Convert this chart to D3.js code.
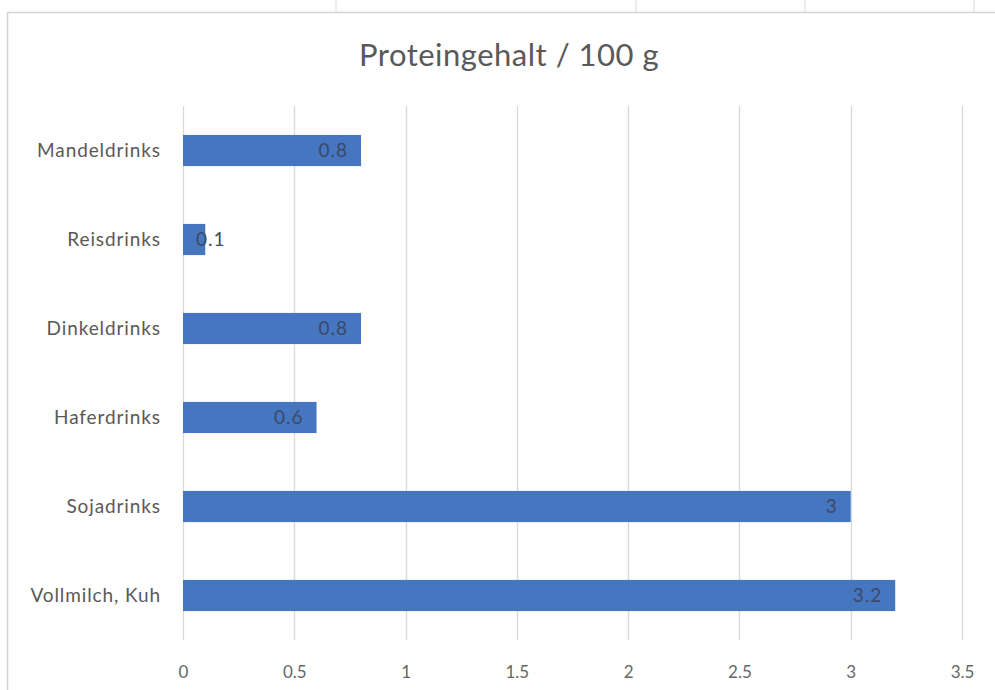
<!DOCTYPE html>
<html>
<head>
<meta charset="utf-8">
<script src="https://cdn.jsdelivr.net/npm/d3@7"></script>
<style>
  body { margin: 0; background: #fff; }
  text { font-family: Lato, "Open Sans", sans-serif; }
</style>
</head>
<body>
<svg id="canvas"></svg>
<script>
let categories = ['Mandeldrinks', 'Reisdrinks', 'Dinkeldrinks', 'Haferdrinks', 'Sojadrinks', 'Vollmilch, Kuh']
let values = [0.8, 0.1, 0.8, 0.6, 3, 3.2]
let ticks = [0, 0.5, 1, 1.5, 2, 2.5, 3, 3.5]
let title = 'Proteingehalt / 100 g'

const width = 995
const height = 690
const plotLeft = 183
const plotRight = 962
const plotTop = 106
const plotBottom = 640

let canvas = d3.select('#canvas')
canvas.attr('width', width)
canvas.attr('height', height)

// spreadsheet cells peeking out above the chart
let cellLines = [336, 636, 805, 974]
canvas.selectAll('line.cell')
    .data(cellLines)
    .enter()
    .append('line')
    .attr('x1', d => d).attr('x2', d => d)
    .attr('y1', 0).attr('y2', 12)
    .attr('stroke', '#dcdcdc')

// chart area border
canvas.append('rect')
    .attr('x', 7.5).attr('y', 12.5)
    .attr('width', width + 20).attr('height', height + 20)
    .attr('fill', '#fff')
    .attr('stroke', '#d4d4d4')
    .attr('stroke-width', 1.5)

let xScale = d3.scaleLinear().domain([0, 3.5]).range([plotLeft, plotRight])
let yScale = d3.scaleBand().domain(categories).range([plotTop, plotBottom]).paddingInner(0.65).paddingOuter(0.325)

canvas.append('text')
    .attr('x', 509).attr('y', 66)
    .attr('text-anchor', 'middle')
    .attr('font-size', 31)
    .attr('letter-spacing', 0.5)
    .attr('fill', '#595959')
    .text(title)

// gridlines
canvas.selectAll('line.grid')
    .data(ticks)
    .enter()
    .append('line')
    .attr('class', 'grid')
    .attr('x1', d => Math.round(xScale(d)) + 0.5)
    .attr('x2', d => Math.round(xScale(d)) + 0.5)
    .attr('y1', plotTop).attr('y2', plotBottom)
    .attr('stroke', '#d9d9d9')
    .attr('stroke-width', 1.3)

let xAxis = d3.axisBottom(xScale).tickValues(ticks).tickSize(0).tickPadding(0).tickFormat(d => String(d))
let gx = canvas.append('g').attr('transform', 'translate(0,' + 678 + ')').call(xAxis)
gx.select('.domain').remove()
gx.selectAll('text').attr('font-size', 17).attr('fill', '#666').attr('font-family', 'Lato, sans-serif').attr('dy', 0)

let yAxis = d3.axisLeft(yScale).tickSize(0).tickPadding(0)
let gy = canvas.append('g').attr('transform', 'translate(161,0)').call(yAxis)
gy.select('.domain').remove()
gy.selectAll('text').attr('font-size', 19).attr('letter-spacing', 0.9).attr('fill', '#595959').attr('font-family', 'Lato, sans-serif')

canvas.selectAll('rect.bar')
    .data(values)
    .enter()
    .append('rect')
    .attr('class', 'bar')
    .attr('x', xScale(0))
    .attr('y', (d, i) => yScale(categories[i]))
    .attr('width', d => xScale(d) - xScale(0))
    .attr('height', yScale.bandwidth())
    .attr('fill', '#4676C0')

// data labels, inside end
canvas.selectAll('text.lbl')
    .data(values)
    .enter()
    .append('text')
    .attr('class', 'lbl')
    .attr('y', (d, i) => yScale(categories[i]) + yScale.bandwidth() / 2)
    .attr('dy', '0.35em')
    .attr('font-size', 19)
    .attr('letter-spacing', 1)
    .attr('fill', '#3b4a66')
    .text(d => String(d))
    .each(function(d) {
        let w = this.getComputedTextLength()
        let x = Math.max(xScale(d) - 13 - w, xScale(0) + 13)
        d3.select(this).attr('x', x)
    })
</script>
</body>
</html>
